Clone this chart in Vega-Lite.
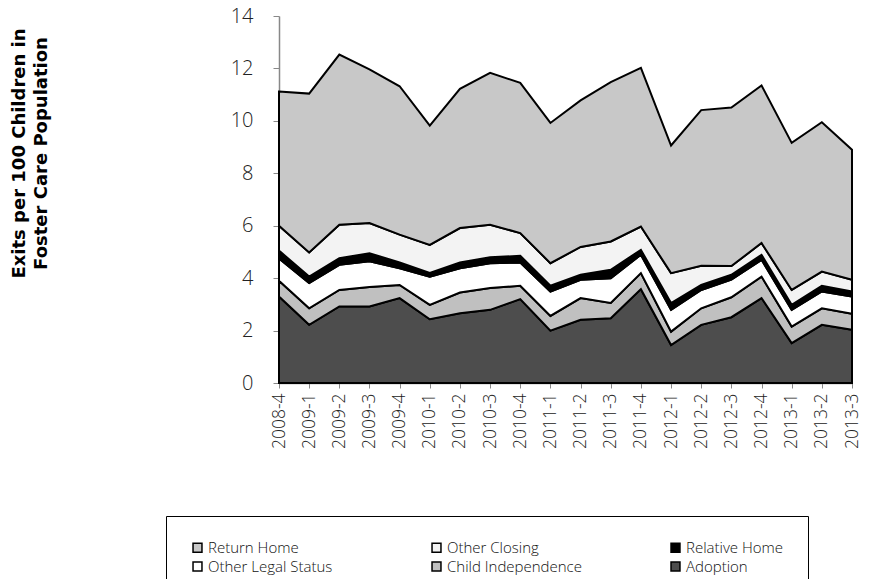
{
  "$schema": "https://vega.github.io/schema/vega-lite/v6.json",
  "width": 573,
  "height": 367,
  "autosize": {"type": "none"},
  "padding": {"left": 279, "top": 16, "right": 17, "bottom": 196},
  "background": "white",
  "config": {"view": {"stroke": null}, "font": "Open Sans"},
  "data": {"values": [
    {"q":"2008-4","s":"Adoption","k":1,"v":3.3},{"q":"2008-4","s":"Child Independence","k":2,"v":0.6},{"q":"2008-4","s":"Other Legal Status","k":3,"v":0.85},{"q":"2008-4","s":"Relative Home","k":4,"v":0.3},{"q":"2008-4","s":"Other Closing","k":5,"v":0.95},{"q":"2008-4","s":"Return Home","k":6,"v":5.12},
    {"q":"2009-1","s":"Adoption","k":1,"v":2.22},{"q":"2009-1","s":"Child Independence","k":2,"v":0.63},{"q":"2009-1","s":"Other Legal Status","k":3,"v":0.96},{"q":"2009-1","s":"Relative Home","k":4,"v":0.25},{"q":"2009-1","s":"Other Closing","k":5,"v":0.92},{"q":"2009-1","s":"Return Home","k":6,"v":6.06},
    {"q":"2009-2","s":"Adoption","k":1,"v":2.92},{"q":"2009-2","s":"Child Independence","k":2,"v":0.63},{"q":"2009-2","s":"Other Legal Status","k":3,"v":0.96},{"q":"2009-2","s":"Relative Home","k":4,"v":0.25},{"q":"2009-2","s":"Other Closing","k":5,"v":1.28},{"q":"2009-2","s":"Return Home","k":6,"v":6.49},
    {"q":"2009-3","s":"Adoption","k":1,"v":2.92},{"q":"2009-3","s":"Child Independence","k":2,"v":0.74},{"q":"2009-3","s":"Other Legal Status","k":3,"v":0.98},{"q":"2009-3","s":"Relative Home","k":4,"v":0.31},{"q":"2009-3","s":"Other Closing","k":5,"v":1.15},{"q":"2009-3","s":"Return Home","k":6,"v":5.86},
    {"q":"2009-4","s":"Adoption","k":1,"v":3.24},{"q":"2009-4","s":"Child Independence","k":2,"v":0.5},{"q":"2009-4","s":"Other Legal Status","k":3,"v":0.64},{"q":"2009-4","s":"Relative Home","k":4,"v":0.22},{"q":"2009-4","s":"Other Closing","k":5,"v":1.06},{"q":"2009-4","s":"Return Home","k":6,"v":5.66},
    {"q":"2010-1","s":"Adoption","k":1,"v":2.43},{"q":"2010-1","s":"Child Independence","k":2,"v":0.55},{"q":"2010-1","s":"Other Legal Status","k":3,"v":1.07},{"q":"2010-1","s":"Relative Home","k":4,"v":0.15},{"q":"2010-1","s":"Other Closing","k":5,"v":1.07},{"q":"2010-1","s":"Return Home","k":6,"v":4.55},
    {"q":"2010-2","s":"Adoption","k":1,"v":2.66},{"q":"2010-2","s":"Child Independence","k":2,"v":0.79},{"q":"2010-2","s":"Other Legal Status","k":3,"v":0.93},{"q":"2010-2","s":"Relative Home","k":4,"v":0.22},{"q":"2010-2","s":"Other Closing","k":5,"v":1.31},{"q":"2010-2","s":"Return Home","k":6,"v":5.31},
    {"q":"2010-3","s":"Adoption","k":1,"v":2.79},{"q":"2010-3","s":"Child Independence","k":2,"v":0.83},{"q":"2010-3","s":"Other Legal Status","k":3,"v":0.95},{"q":"2010-3","s":"Relative Home","k":4,"v":0.23},{"q":"2010-3","s":"Other Closing","k":5,"v":1.24},{"q":"2010-3","s":"Return Home","k":6,"v":5.79},
    {"q":"2010-4","s":"Adoption","k":1,"v":3.2},{"q":"2010-4","s":"Child Independence","k":2,"v":0.51},{"q":"2010-4","s":"Other Legal Status","k":3,"v":0.89},{"q":"2010-4","s":"Relative Home","k":4,"v":0.25},{"q":"2010-4","s":"Other Closing","k":5,"v":0.87},{"q":"2010-4","s":"Return Home","k":6,"v":5.73},
    {"q":"2011-1","s":"Adoption","k":1,"v":2.0},{"q":"2011-1","s":"Child Independence","k":2,"v":0.56},{"q":"2011-1","s":"Other Legal Status","k":3,"v":0.93},{"q":"2011-1","s":"Relative Home","k":4,"v":0.22},{"q":"2011-1","s":"Other Closing","k":5,"v":0.86},{"q":"2011-1","s":"Return Home","k":6,"v":5.35},
    {"q":"2011-2","s":"Adoption","k":1,"v":2.41},{"q":"2011-2","s":"Child Independence","k":2,"v":0.83},{"q":"2011-2","s":"Other Legal Status","k":3,"v":0.7},{"q":"2011-2","s":"Relative Home","k":4,"v":0.19},{"q":"2011-2","s":"Other Closing","k":5,"v":1.06},{"q":"2011-2","s":"Return Home","k":6,"v":5.59},
    {"q":"2011-3","s":"Adoption","k":1,"v":2.47},{"q":"2011-3","s":"Child Independence","k":2,"v":0.58},{"q":"2011-3","s":"Other Legal Status","k":3,"v":0.95},{"q":"2011-3","s":"Relative Home","k":4,"v":0.32},{"q":"2011-3","s":"Other Closing","k":5,"v":1.08},{"q":"2011-3","s":"Return Home","k":6,"v":6.08},
    {"q":"2011-4","s":"Adoption","k":1,"v":3.58},{"q":"2011-4","s":"Child Independence","k":2,"v":0.61},{"q":"2011-4","s":"Other Legal Status","k":3,"v":0.7},{"q":"2011-4","s":"Relative Home","k":4,"v":0.19},{"q":"2011-4","s":"Other Closing","k":5,"v":0.89},{"q":"2011-4","s":"Return Home","k":6,"v":6.05},
    {"q":"2012-1","s":"Adoption","k":1,"v":1.45},{"q":"2012-1","s":"Child Independence","k":2,"v":0.51},{"q":"2012-1","s":"Other Legal Status","k":3,"v":0.83},{"q":"2012-1","s":"Relative Home","k":4,"v":0.26},{"q":"2012-1","s":"Other Closing","k":5,"v":1.14},{"q":"2012-1","s":"Return Home","k":6,"v":4.87},
    {"q":"2012-2","s":"Adoption","k":1,"v":2.22},{"q":"2012-2","s":"Child Independence","k":2,"v":0.63},{"q":"2012-2","s":"Other Legal Status","k":3,"v":0.7},{"q":"2012-2","s":"Relative Home","k":4,"v":0.19},{"q":"2012-2","s":"Other Closing","k":5,"v":0.73},{"q":"2012-2","s":"Return Home","k":6,"v":5.94},
    {"q":"2012-3","s":"Adoption","k":1,"v":2.51},{"q":"2012-3","s":"Child Independence","k":2,"v":0.76},{"q":"2012-3","s":"Other Legal Status","k":3,"v":0.67},{"q":"2012-3","s":"Relative Home","k":4,"v":0.19},{"q":"2012-3","s":"Other Closing","k":5,"v":0.33},{"q":"2012-3","s":"Return Home","k":6,"v":6.05},
    {"q":"2012-4","s":"Adoption","k":1,"v":3.24},{"q":"2012-4","s":"Child Independence","k":2,"v":0.82},{"q":"2012-4","s":"Other Legal Status","k":3,"v":0.64},{"q":"2012-4","s":"Relative Home","k":4,"v":0.19},{"q":"2012-4","s":"Other Closing","k":5,"v":0.45},{"q":"2012-4","s":"Return Home","k":6,"v":6.01},
    {"q":"2013-1","s":"Adoption","k":1,"v":1.52},{"q":"2013-1","s":"Child Independence","k":2,"v":0.63},{"q":"2013-1","s":"Other Legal Status","k":3,"v":0.64},{"q":"2013-1","s":"Relative Home","k":4,"v":0.19},{"q":"2013-1","s":"Other Closing","k":5,"v":0.57},{"q":"2013-1","s":"Return Home","k":6,"v":5.61},
    {"q":"2013-2","s":"Adoption","k":1,"v":2.22},{"q":"2013-2","s":"Child Independence","k":2,"v":0.63},{"q":"2013-2","s":"Other Legal Status","k":3,"v":0.64},{"q":"2013-2","s":"Relative Home","k":4,"v":0.22},{"q":"2013-2","s":"Other Closing","k":5,"v":0.54},{"q":"2013-2","s":"Return Home","k":6,"v":5.7},
    {"q":"2013-3","s":"Adoption","k":1,"v":2.03},{"q":"2013-3","s":"Child Independence","k":2,"v":0.61},{"q":"2013-3","s":"Other Legal Status","k":3,"v":0.66},{"q":"2013-3","s":"Relative Home","k":4,"v":0.19},{"q":"2013-3","s":"Other Closing","k":5,"v":0.45},{"q":"2013-3","s":"Return Home","k":6,"v":4.96}
  ]},
  "mark": {"type": "area", "stroke": "black", "strokeWidth": 2, "strokeJoin": "miter", "opacity": 1, "fillOpacity": 1},
  "encoding": {
    "x": {
      "field": "q", "type": "ordinal",
      "scale": {"type": "point", "padding": 0},
      "axis": {
        "title": null, "labelAngle": -90, "labelAlign": "right", "labelBaseline": "middle",
        "labelFont": "Open Sans", "labelFontWeight": 300, "labelFontSize": 17.5, "labelColor": "#222",
        "labelPadding": 5, "tickSize": 5, "tickColor": "#888", "domainColor": "#888", "domainWidth": 1.5, "labelOverlap": false
      }
    },
    "y": {
      "field": "v", "type": "quantitative", "stack": "zero",
      "scale": {"domain": [0, 14], "nice": false},
      "axis": {
        "values": [0, 2, 4, 6, 8, 10, 12, 14], "grid": false,
        "tickSize": 6, "tickColor": "#888", "domainColor": "#888", "domainWidth": 1.5,
        "labelFont": "Open Sans", "labelFontWeight": 300, "labelFontSize": 20, "labelColor": "#222", "labelPadding": 20,
        "title": ["Exits per 100 Children in", "Foster Care Population"],
        "titleFont": "DejaVu Sans", "titleFontSize": 18, "titleFontWeight": "bold", "titleColor": "black",
        "titleAngle": -90, "titleAlign": "center", "titleBaseline": "top", "titleLineHeight": 22,
        "titleX": -269, "titleY": 137
      }
    },
    "order": {"field": "k", "type": "quantitative", "sort": "ascending"},
    "color": {
      "field": "s", "type": "nominal",
      "scale": {
        "domain": ["Return Home", "Other Closing", "Relative Home", "Other Legal Status", "Child Independence", "Adoption"],
        "range": ["#c8c8c8", "#f3f3f3", "#000000", "#ffffff", "#c0c0c0", "#4d4d4d"]
      },
      "legend": {
        "title": null, "orient": "none", "legendX": -113, "legendY": 500, "direction": "horizontal", "columns": 3,
        "gridAlign": "all", "columnPadding": 86, "rowPadding": 3,
        "symbolType": "square", "symbolSize": 80, "symbolStrokeColor": "black", "symbolStrokeWidth": 1.5, "symbolOpacity": 1,
        "labelFont": "Open Sans", "labelFontWeight": 300, "labelFontSize": 15, "labelColor": "#111", "labelOffset": 3,
        "strokeColor": "black", "padding": 24, "fillColor": "white", "labelLimit": 300
      }
    }
  }
}
